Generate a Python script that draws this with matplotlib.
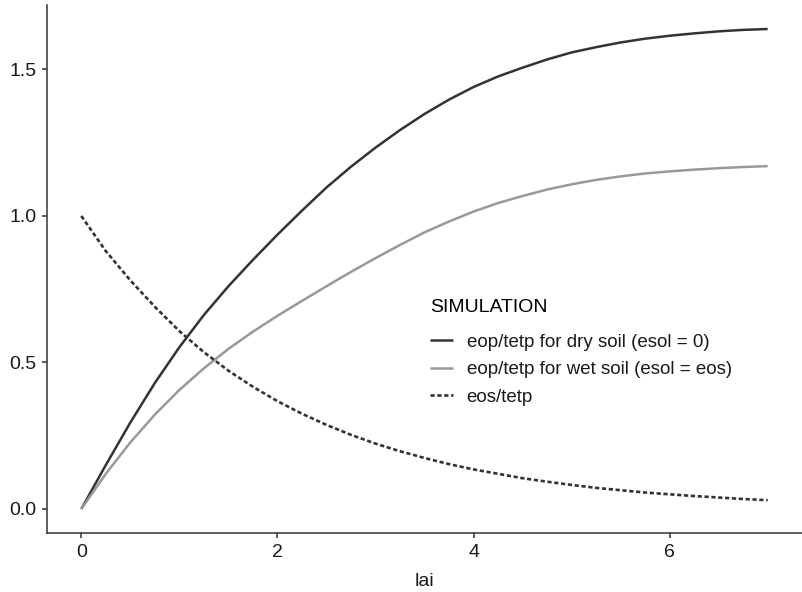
import matplotlib
matplotlib.use('Agg')
import matplotlib.pyplot as plt

plt.rcParams['font.family'] = ['Liberation Sans', 'DejaVu Sans']

lai = [0, 0.25, 0.5, 0.75, 1.0, 1.25, 1.5, 1.75, 2.0, 2.25, 2.5, 2.75, 3.0, 3.25, 3.5,
       3.75, 4.0, 4.25, 4.5, 4.75, 5.0, 5.25, 5.5, 5.75, 6.0, 6.25, 6.5, 6.75, 7.0]

# eop/tetp for dry soil (esol = 0)
dry = [0.00, 0.15, 0.295, 0.43, 0.552, 0.662, 0.76, 0.85, 0.936, 1.018, 1.097, 1.168,
       1.233, 1.293, 1.348, 1.397, 1.44, 1.476, 1.506, 1.534, 1.558, 1.576, 1.592, 1.605,
       1.615, 1.623, 1.630, 1.635, 1.638]

# eop/tetp for wet soil (esol = eos)
wet = [0.00, 0.12, 0.227, 0.322, 0.406, 0.48, 0.546, 0.605, 0.659, 0.71, 0.76, 0.809,
       0.856, 0.901, 0.944, 0.981, 1.015, 1.044, 1.068, 1.09, 1.108, 1.123, 1.135, 1.145,
       1.152, 1.158, 1.163, 1.167, 1.170]

# eos/tetp
eos = [1.00, 0.88, 0.78, 0.69, 0.607, 0.535, 0.472, 0.417, 0.368, 0.325, 0.287, 0.253,
       0.223, 0.197, 0.174, 0.153, 0.135, 0.12, 0.105, 0.093, 0.082, 0.072, 0.064, 0.056,
       0.05, 0.044, 0.039, 0.034, 0.03]

fig = plt.figure(figsize=(8.02, 5.92), dpi=100)
ax = fig.add_axes([0.0586, 0.0997, 0.9414, 0.8919])

ax.plot(lai, dry, color='#333333', lw=1.8, solid_capstyle='butt', solid_joinstyle='round',
        label='eop/tetp for dry soil (esol = 0)')
ax.plot(lai, wet, color='#999999', lw=1.8, solid_capstyle='butt', solid_joinstyle='round',
        label='eop/tetp for wet soil (esol = eos)')
ax.plot(lai, eos, color='#333333', lw=1.9, dashes=(1.6, 1.0),
        label='eos/tetp')

ax.set_xlim(-0.35, 7.35)
ax.set_ylim(-0.082, 1.72)
ax.set_xticks([0, 2, 4, 6])
ax.set_yticks([0.0, 0.5, 1.0, 1.5])
ax.set_yticklabels(['0.0', '0.5', '1.0', '1.5'])

for s in ['top', 'right']:
    ax.spines[s].set_visible(False)
for s in ['left', 'bottom']:
    ax.spines[s].set_color('#333333')
    ax.spines[s].set_linewidth(1.1)
ax.tick_params(axis='both', length=3.6, width=1.1, color='#333333',
               labelsize=14, labelcolor='#1a1a1a', pad=4)

ax.set_xlabel('lai', fontsize=14, color='#1a1a1a', labelpad=9)

fs = 13.5
spacing = 0.56
leg = fig.legend(*ax.get_legend_handles_labels(), title='SIMULATION', loc='upper left',
                 bbox_to_anchor=(430 / 802, 1 - 299 / 592), frameon=False,
                 fontsize=fs, title_fontsize=14, borderpad=0, borderaxespad=0,
                 handlelength=1.25, handletextpad=0.7, labelspacing=spacing)
leg._legend_box.align = 'left'
leg._legend_box.sep = spacing * fs + 5
for t in leg.get_texts():
    t.set_color('#1a1a1a')

fig.savefig('out.png', dpi=100)
